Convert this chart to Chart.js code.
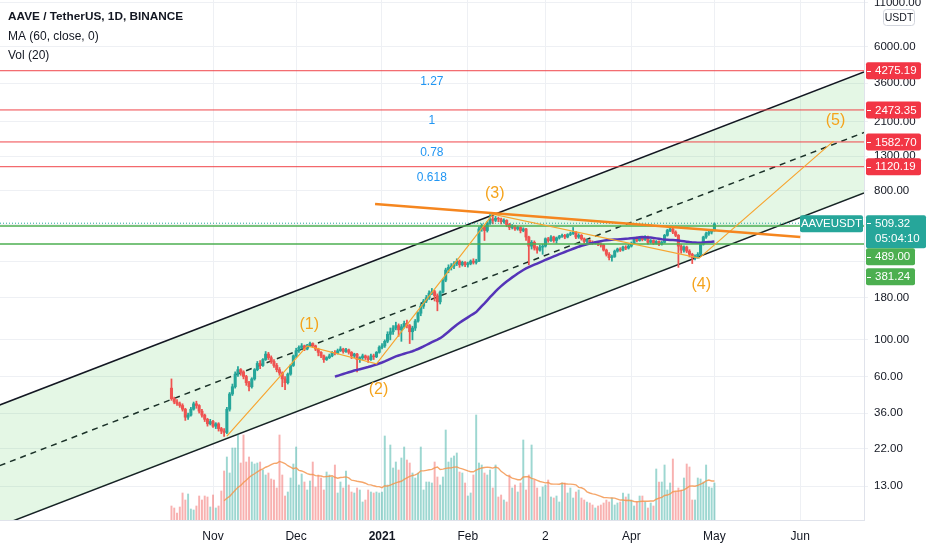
<!DOCTYPE html>
<html>
<head>
<meta charset="utf-8">
<script src="https://cdn.jsdelivr.net/npm/chart.js@4.4.1/dist/chart.umd.min.js"></script>
<style>
  html, body { margin: 0; padding: 0; background: #fff; }
  #wrap { position: relative; width: 932px; height: 550px; }
</style>
</head>
<body>
<div id="wrap"><canvas id="chart" width="932" height="550"></canvas></div>
<script>
const FONT = "'Liberation Sans', Arial, sans-serif";

// day 0 = 1 Nov 2020, first candle is 17 Oct 2020
const firstDay = -15;

const closes = [
    // Oct 17 - 31
    44, 42, 41, 40, 38, 34, 35, 38, 41, 40, 37, 35, 33, 31, 32,
    // Nov
    30, 31, 29, 28, 27.5, 38, 47, 52, 62, 66, 64, 60, 55, 52, 58, 66, 72, 70, 76, 82, 78, 74, 70, 66, 63, 58, 55, 62, 70, 80,
    // Dec
    86, 90, 92, 88, 93, 95, 92, 88, 84, 80, 76, 78, 80, 84, 83, 86, 88, 85, 87, 84, 80, 82, 76, 78, 80, 78, 76, 80, 79, 84, 90,
    // Jan
    92, 98, 108, 112, 118, 122, 115, 120, 126, 122, 112, 118, 130, 145, 160, 172, 180, 192, 196, 185, 170, 195, 230, 265, 275, 280, 290, 300, 285, 295, 285,
    // Feb
    290, 300, 295, 300, 470, 490, 460, 510, 540, 530, 545, 540, 520, 530, 500, 480, 490, 470, 480, 460, 470, 420, 370, 390, 360, 350, 365, 370,
    // Mar
    410, 400, 420, 400, 415, 425, 430, 420, 435, 440, 450, 420, 430, 410, 395, 400, 390, 385, 390, 380, 375, 350, 330, 315, 320, 345, 355, 350, 365, 360, 370,
    // Apr
    385, 410, 400, 415, 405, 420, 390, 400, 385, 395, 380, 390, 430, 460, 470, 450, 430, 370, 350, 365, 345, 330, 315, 320, 330, 380, 420, 440, 450, 460,
    // May 1
    505
];
const firstOpen = 51;

const highs = [
    58, 45, 43.5, 42, 41, 38.5, 36, 39, 42, 42.5, 40.5, 38, 35.5, 33.5, 33,
    32.5, 31.5, 31.5, 29.5, 29, 39, 48, 54, 64, 69, 67, 65, 61, 56, 59, 67, 74, 75, 77, 85, 84, 80, 76, 72, 68, 64, 60, 63, 71, 81,
    89, 92, 95, 93, 94, 97, 96, 93, 89, 85, 81, 79, 82, 85, 86, 88, 91, 89, 89, 88, 85, 83, 83, 79, 82, 81, 80, 82, 82, 85, 92,
    95, 100, 112, 118, 122, 128, 125, 124, 130, 132, 124, 121, 133, 148, 165, 176, 186, 198, 205, 200, 190, 198, 235, 272, 285, 290, 298, 310, 305, 300, 298,
    296, 305, 310, 308, 485, 505, 498, 520, 575, 560, 560, 555, 548, 542, 535, 508, 500, 495, 488, 486, 478, 475, 425, 400, 398, 368, 375, 380,
    415, 418, 428, 425, 420, 430, 438, 436, 440, 450, 480, 455, 440, 435, 415, 408, 405, 398, 395, 396, 386, 380, 355, 338, 326, 350, 360, 362, 370, 372, 378,
    392, 418, 420, 422, 420, 428, 425, 406, 404, 400, 398, 396, 436, 468, 482, 476, 458, 435, 380, 372, 370, 352, 335, 328, 338, 385, 425, 450, 460, 468,
    512
];

const lows = [
    43, 41, 40, 39, 37, 32.5, 33, 34.5, 37.5, 38.5, 36, 34, 32, 30, 30.5,
    29.5, 29, 28, 27, 26, 27, 37, 46, 51, 60, 61, 58, 53, 49, 51, 57, 65, 67, 69, 75, 76, 72, 68, 64, 61, 52, 50, 54, 61, 69,
    78, 84, 88, 86, 87, 91, 90, 86, 80, 78, 73, 75, 77, 79, 81, 82, 85, 83, 84, 82, 77, 78, 64, 73, 76, 76, 73, 75, 76, 78, 83,
    88, 90, 96, 100, 108, 115, 105, 98, 118, 118, 95, 100, 114, 128, 140, 155, 168, 176, 188, 172, 150, 165, 192, 225, 255, 265, 270, 282, 275, 280, 278,
    276, 285, 288, 288, 298, 455, 400, 450, 500, 505, 520, 520, 505, 510, 485, 465, 470, 460, 462, 445, 452, 400, 285, 355, 350, 335, 345, 330,
    365, 390, 395, 390, 385, 408, 418, 410, 415, 428, 435, 410, 412, 402, 385, 388, 380, 378, 380, 372, 365, 345, 322, 305, 300, 316, 340, 343, 346, 352, 355,
    365, 380, 392, 396, 398, 400, 380, 385, 378, 380, 372, 375, 386, 425, 452, 440, 422, 275, 335, 340, 338, 318, 290, 305, 312, 325, 375, 412, 430, 438,
    455
];

// volume, thousands of AAVE
const volumes = [
    14, 12, 7, 13, 27, 20, 26, 11, 10, 14, 24, 20, 24, 23, 13, 25, 12, 14,
    29, 49, 63, 47, 72, 72, 85, 57, 85, 58, 63, 58, 56, 57, 58, 50, 45, 47, 41, 40,
    32, 85, 45, 24, 28, 42, 56, 73, 35, 46, 38, 30, 39, 58, 33, 45, 42, 30, 48, 45,
    43, 55, 27, 38, 32, 49, 35, 28, 27, 32, 30, 18, 20, 30, 28, 27, 28, 27,
    28, 84, 35, 75, 52, 58, 50, 62, 73, 60, 57, 47, 42, 47, 73, 30, 38, 38, 37, 58,
    43, 35, 43, 90, 58, 62, 64, 67,
    48, 47, 37, 24, 27, 45, 105, 57, 55, 47, 45, 50, 32, 55, 23, 25, 20, 18,
    45, 32, 35, 28, 37, 80, 30, 45, 75, 40, 32, 23, 33, 35, 40, 23, 22, 24,
    18, 37, 37, 27, 32, 22, 28, 30, 22, 20, 18, 17, 15, 12, 14, 15,
    17, 20, 18, 22, 15, 17, 18, 27, 23, 26, 20, 14, 18, 24, 24, 18, 12, 17,
    14, 51, 38, 38, 55, 30, 37, 61, 28, 32, 30, 42, 56, 53, 20, 20, 42, 41, 38,
    55, 33, 32, 37
];

const monthTicks = [0, 30, 61, 92, 120, 151, 181, 212];
const monthLabels = ['Nov', 'Dec', '2021', 'Feb', '2', 'Apr', 'May', 'Jun'];
const priceTicks = [13, 22, 36, 60, 100, 180, 300, 500, 800, 1300, 2100, 3600, 6000, 11000];

const fibLevels = [4275.19, 2473.35, 1582.70, 1120.19];
const fibNames = ['1.27', '1', '0.78', '0.618'];
const fibLabelDay = 79;
const supportLevels = [489.00, 381.24];
const lastPrice = 509.32;
const countdown = '05:04:10';
const symbol = 'AAVEUSDT';

// hand drawn lines, [day, price]
const channelUpper = [[-77, 40.3], [235, 4200]];
const channelMid = [[-77, 17.3], [235, 1804]];
const channelLower = [[-77, 7.45], [235, 776]];
const neckline = [[58.5, 665], [212, 420]];
const wavePoints = [[5, 26.1], [34, 92], [59, 71.5], [101, 578], [175.5, 313], [224, 1600]];
const waveNames = ['', '(1)', '(2)', '(3)', '(4)', '(5)'];

const xMin = -76.9, xMax = 235;
const yMin = 8.1, yMax = 11470;

const UP = '#26a69a', DOWN = '#ef5350';
const GREEN = '#4caf50';

const days = closes.map((_, i) => firstDay + i);
const opens = closes.map((c, i) => i === 0 ? firstOpen : closes[i - 1]);
const isUp = closes.map((c, i) => c >= opens[i]);

function sma(arr, n) {
    const out = [];
    for (let i = n - 1; i < arr.length; i++) {
        let s = 0;
        for (let k = i - n + 1; k <= i; k++) s += arr[k];
        out.push({ x: days[i], y: s / n });
    }
    return out;
}

const pts = arr => arr.map(([x, y]) => ({ x, y }));
const hline = v => [{ x: xMin, y: v }, { x: xMax, y: v }];

function lineDs(data, color, width, extra) {
    return Object.assign({
        type: 'line', data, borderColor: color, borderWidth: width,
        pointRadius: 0, tension: 0, fill: false, yAxisID: 'y', order: 1
    }, extra || {});
}

// bars are not grouped, so width comes from maxBarThickness
const barBase = { type: 'bar', grouped: false, borderWidth: 0, barPercentage: 1, categoryPercentage: 1 };

const datasets = [
    lineDs(pts(channelUpper), '#131722', 1.5, { fill: '+2', backgroundColor: 'rgba(76,200,80,0.15)', order: 20 }),
    lineDs(pts(channelMid), '#131722', 1.5, { borderDash: [6, 5], order: 20 }),
    lineDs(pts(channelLower), '#131722', 1.5, { order: 20 }),
    ...fibLevels.map(v => lineDs(hline(v), '#f0454a', 1, { order: 2 })),
    ...supportLevels.map(v => lineDs(hline(v), GREEN, 1.5, { order: 2 })),
    lineDs(hline(lastPrice), UP, 1, { borderDash: [1, 2], order: 2 }),
    lineDs(pts(neckline), '#f5861f', 2.5),
    lineDs(pts(wavePoints), '#f7a531', 1.2),
    lineDs(sma(closes, 60), '#5534b8', 2.5, { order: 3 }),
    Object.assign({}, barBase, {
        yAxisID: 'y', order: 5, maxBarThickness: 1.1,
        data: days.map((d, i) => ({ x: d, y: [lows[i], highs[i]] })),
        backgroundColor: isUp.map(u => u ? UP : DOWN)
    }),
    Object.assign({}, barBase, {
        yAxisID: 'y', order: 4, maxBarThickness: 2.4,
        data: days.map((d, i) => ({ x: d, y: [opens[i], closes[i]] })),
        backgroundColor: isUp.map(u => u ? UP : DOWN)
    }),
    Object.assign({}, barBase, {
        yAxisID: 'vol', order: 10, maxBarThickness: 1.3,
        data: days.map((d, i) => ({ x: d, y: volumes[i] })),
        backgroundColor: isUp.map(u => u ? 'rgba(38,166,154,0.45)' : 'rgba(239,83,80,0.45)')
    }),
    lineDs(sma(volumes, 20), 'rgba(243,150,80,0.85)', 1.4, { yAxisID: 'vol', order: 9 })
];

function box(ctx, x, y, w, h, color) {
    ctx.fillStyle = color;
    ctx.beginPath();
    ctx.roundRect(x, y, w, h, 2);
    ctx.fill();
}

const overlay = {
    id: 'overlay',
    afterDatasetsDraw(chart) {
        const { ctx, chartArea: a, scales: { x, y } } = chart;
        ctx.save();
        ctx.beginPath();
        ctx.rect(a.left, a.top, a.width, a.height);
        ctx.clip();
        ctx.textAlign = 'center';
        ctx.textBaseline = 'middle';
        ctx.fillStyle = '#2196f3';
        ctx.font = `12px ${FONT}`;
        fibLevels.forEach((lv, i) => {
            ctx.fillText(fibNames[i], x.getPixelForValue(fibLabelDay), y.getPixelForValue(lv) + 11);
        });
        ctx.fillStyle = '#f5a31b';
        ctx.font = `16px ${FONT}`;
        wavePoints.forEach(([d, p], i) => {
            if (!waveNames[i]) return;
            const off = i % 2 ? -21 : 26;
            ctx.fillText(waveNames[i], x.getPixelForValue(d) + 2, y.getPixelForValue(p) + off);
        });
        ctx.restore();
    },
    afterDraw(chart) {
        const { ctx, chartArea: a, scales: { y } } = chart;
        const left = a.right + 2;
        ctx.save();
        ctx.textBaseline = 'middle';

        // legend
        ctx.fillStyle = '#131722';
        ctx.textAlign = 'left';
        ctx.font = `bold 11.8px ${FONT}`;
        ctx.fillText('AAVE / TetherUS, 1D, BINANCE', 8, 17);
        ctx.font = `12px ${FONT}`;
        ctx.fillText('MA (60, close, 0)', 8, 37);
        ctx.fillText('Vol (20)', 8, 56);

        // currency badge
        ctx.fillStyle = '#fff';
        ctx.strokeStyle = '#d1d4dc';
        ctx.beginPath();
        ctx.roundRect(883.5, 9.5, 31, 16, 3);
        ctx.fill();
        ctx.stroke();
        ctx.fillStyle = '#131722';
        ctx.textAlign = 'center';
        ctx.font = `10.5px ${FONT}`;
        ctx.fillText('USDT', 899, 18);

        const tagText = (txt, yy) => {
            ctx.fillStyle = '#fff';
            ctx.fillRect(left + 1, Math.round(yy), 4, 1);
            ctx.textAlign = 'left';
            ctx.font = `11.5px ${FONT}`;
            ctx.fillText(txt, left + 9, yy + 0.5);
        };

        // fib level tags
        fibLevels.forEach(lv => {
            const py = y.getPixelForValue(lv);
            box(ctx, left, py - 8.5, 55, 17, '#f23645');
            tagText(lv.toFixed(2), py);
        });

        // last price tag + symbol tag
        const py = y.getPixelForValue(lastPrice);
        box(ctx, left, py - 8, 60, 33, UP);
        tagText(lastPrice.toFixed(2), py);
        ctx.fillStyle = '#fff';
        ctx.fillText(countdown, left + 9, py + 16);
        box(ctx, a.right - 64, py - 8, 63, 17, UP);
        ctx.fillStyle = '#fff';
        ctx.textAlign = 'center';
        ctx.font = `11.5px ${FONT}`;
        ctx.fillText(symbol, a.right - 32.5, py + 0.5);

        // support tags, stacked under the last price tag
        let top = py + 25;
        supportLevels.forEach(lv => {
            const t = Math.max(top, y.getPixelForValue(lv) - 8.5);
            box(ctx, left, t, 49, 17, GREEN);
            tagText(lv.toFixed(2), t + 8.5);
            top = t + 20;
        });
        ctx.restore();
    }
};

new Chart(document.getElementById('chart'), {
    type: 'bar',
    data: { datasets },
    plugins: [overlay],
    options: {
        responsive: false,
        animation: false,
        layout: { padding: 0 },
        plugins: { legend: { display: false }, tooltip: { enabled: false } },
        scales: {
            x: {
                type: 'linear', min: xMin, max: xMax, offset: false,
                grid: { color: '#eef0f4', offset: false, drawTicks: false },
                border: { color: '#e0e3eb' },
                afterBuildTicks: s => { s.ticks = monthTicks.map(v => ({ value: v })); },
                afterFit: s => { s.height = 30; s.paddingLeft = 0; s.paddingRight = 0; },
                ticks: {
                    autoSkip: false, maxRotation: 0, padding: 9, color: '#131722',
                    font: ctx => ({ family: FONT, size: 12, weight: ctx.tick && ctx.tick.label === '2021' ? 'bold' : 'normal' }),
                    callback: v => monthLabels[monthTicks.indexOf(v)]
                }
            },
            y: {
                type: 'logarithmic', position: 'right', min: yMin, max: yMax,
                grid: { color: '#eef0f4', tickLength: 4 },
                border: { color: '#e0e3eb' },
                afterBuildTicks: s => { s.ticks = priceTicks.map(v => ({ value: v })); },
                afterFit: s => { s.width = 68; s.paddingTop = 0; s.paddingBottom = 0; },
                ticks: {
                    padding: 6, color: '#131722', font: { family: FONT, size: 11.5 },
                    callback: v => Number(v).toFixed(2)
                }
            },
            vol: { type: 'linear', display: false, min: 0, max: 520 }
        }
    }
});
</script>
</body>
</html>
